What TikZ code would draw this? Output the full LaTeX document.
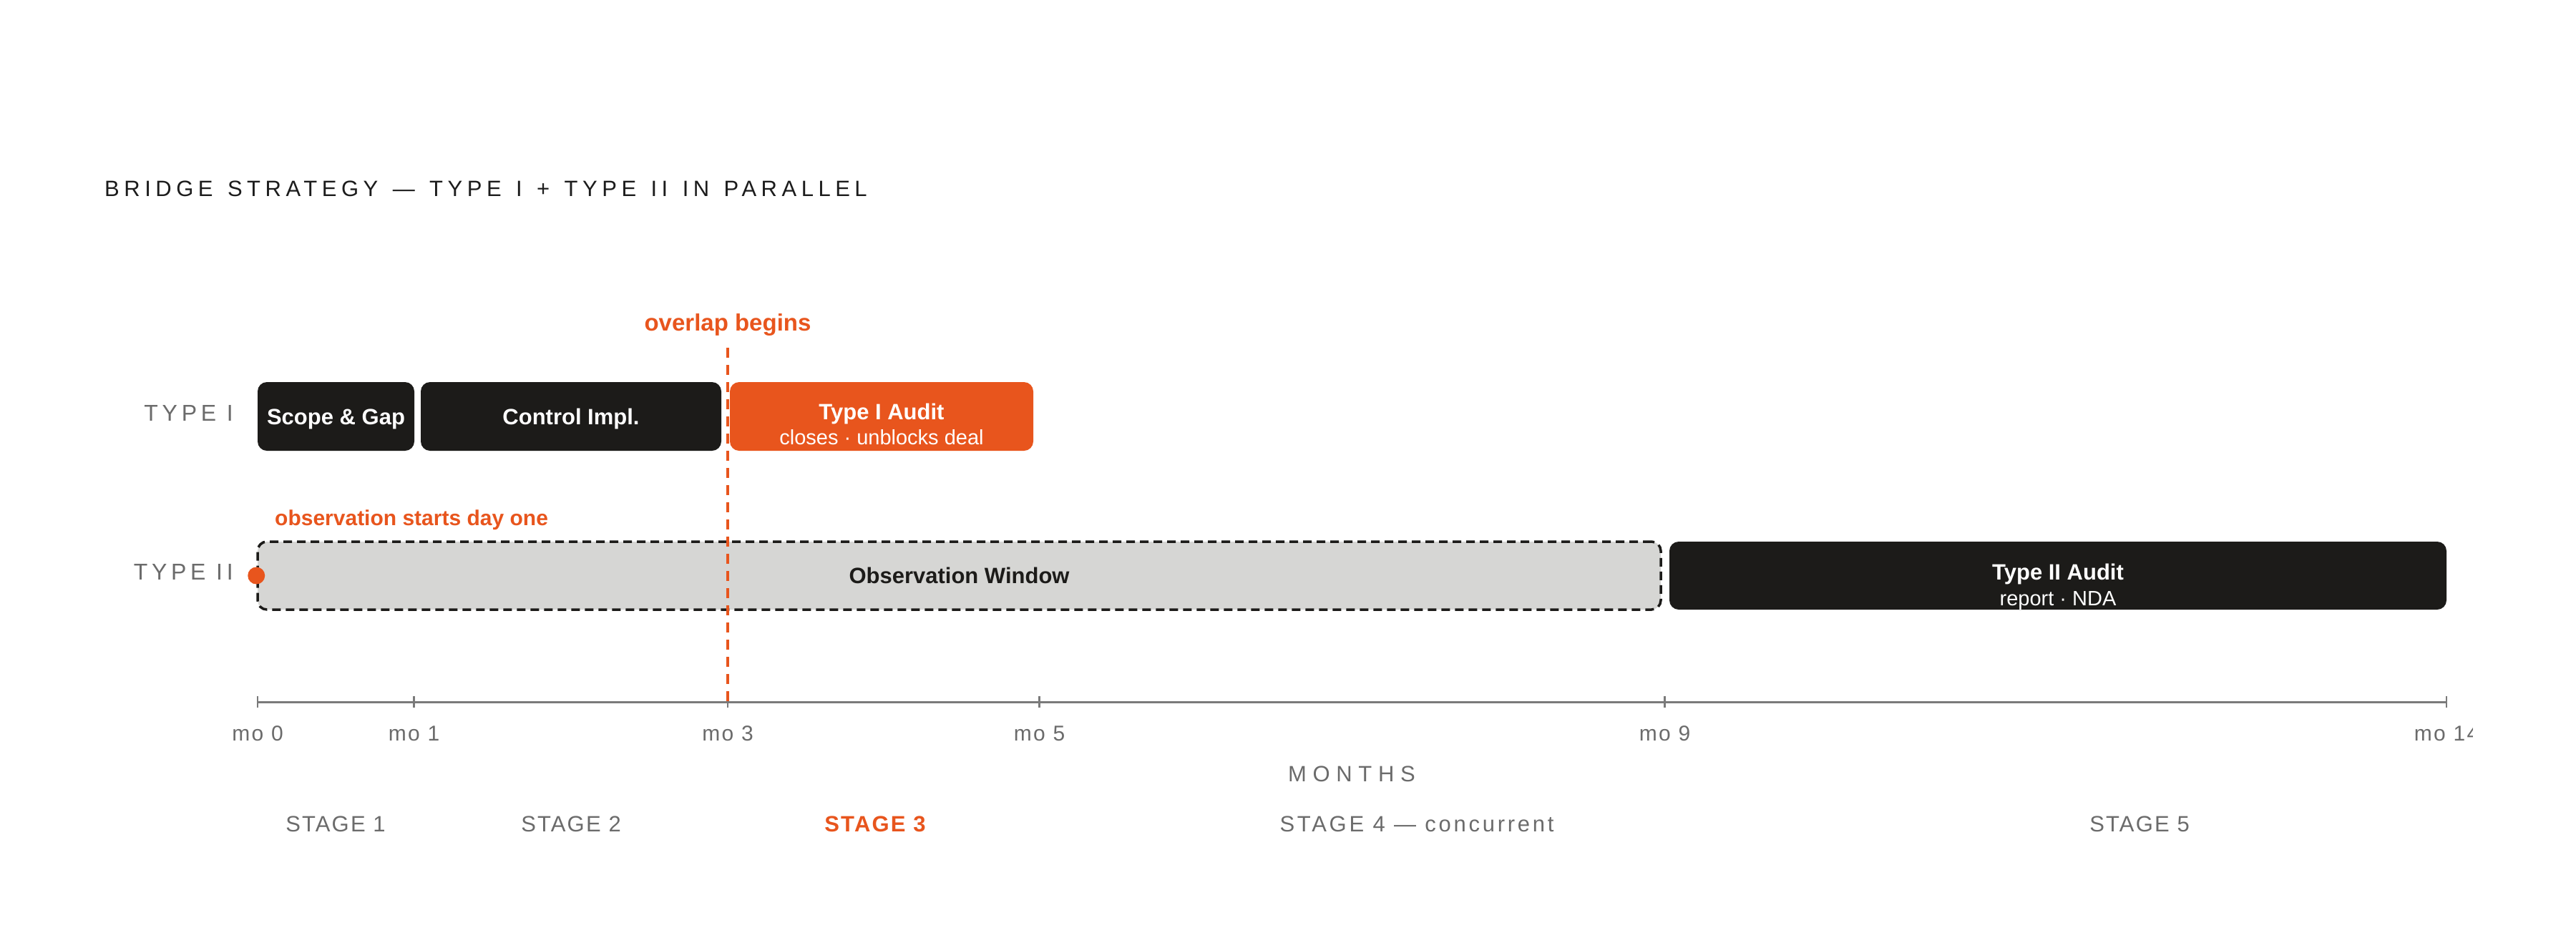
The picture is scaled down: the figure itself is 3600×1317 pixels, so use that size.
\documentclass[tikz,border=0pt]{standalone}
\usepackage{fontspec}
\usetikzlibrary{calc}
\setmainfont{Liberation Sans}
\newfontfamily\titlefont[LetterSpace=21,WordSpace=1.35]{Liberation Sans}
\newfontfamily\rowfont[LetterSpace=18]{Liberation Sans}
\newfontfamily\stagefont[LetterSpace=7]{Liberation Sans}
\newfontfamily\stagefourfont[LetterSpace=12]{Liberation Sans}
\newfontfamily\monthsfont[LetterSpace=28]{Liberation Sans}
\newfontfamily\tickfont[LetterSpace=8]{Liberation Sans}
\definecolor{ink}{HTML}{1C1B19}
\definecolor{accent}{HTML}{E8551D}
\definecolor{muted}{HTML}{6B6B6B}
\definecolor{obsfill}{HTML}{D6D6D4}
\definecolor{axisgray}{HTML}{7A7A7A}
\definecolor{titleink}{HTML}{1C1C1C}
\begin{document}
\begin{tikzpicture}[x=1pt,y=-1pt,
  barbase/.style={rounded corners=13pt, inner sep=0pt, minimum height=96pt,
    text height=22pt, text depth=0pt},
  darkbar/.style={barbase, fill=ink, text=white, font=\fontsize{31}{36}\selectfont\bfseries},
  accentbar/.style={barbase, fill=accent, text=white},
  obsbar/.style={barbase, minimum height=95pt, fill=obsfill, draw=ink, line width=3.5pt,
    dash pattern=on 12pt off 7pt, text=ink, font=\fontsize{31}{36}\selectfont\bfseries},
  bartitle/.style={anchor=base, inner sep=0pt, text=white, font=\fontsize{31}{36}\selectfont\bfseries},
  barsub/.style={anchor=base, inner sep=0pt, text=white, font=\fontsize{29}{34}\selectfont},
  rowlbl/.style={anchor=base east, inner sep=0pt, text=muted, font=\fontsize{32}{38}\selectfont\rowfont},
  ticklbl/.style={anchor=base, inner sep=0pt, text=muted, font=\fontsize{30}{36}\selectfont\tickfont},
  stagelbl/.style={anchor=base, inner sep=0pt, text=muted, font=\fontsize{31}{36}\selectfont\stagefont},
  note/.style={inner sep=0pt, text=accent, font=\bfseries},
  axisline/.style={draw=axisgray, line width=3pt},
  tickmark/.style={draw=axisgray, line width=2.5pt},
  overlapline/.style={draw=accent, line width=4.5pt, dash pattern=on 14pt off 10pt}
]
\fill[white] (0,0) rectangle (3600,1317);
\useasboundingbox (0,0) rectangle (3600,1317);

% title
\node[anchor=base west, inner sep=0pt, text=titleink, font=\fontsize{31}{36}\selectfont\titlefont]
  (title) at (146,274) {BRIDGE STRATEGY — TYPE I + TYPE II IN PARALLEL};

% row labels
\node[rowlbl] (rowone) at (326,588) {TYPE I};
\node[rowlbl] (rowtwo) at (326,810) {TYPE II};

% Type I bars
\node[darkbar, minimum width=219pt] (scope) at (469.5,582) {Scope \& Gap};
\node[darkbar, minimum width=420pt] (control) at (798,582) {Control Impl.};
\node[accentbar, minimum width=424pt] (taudit) at (1232,582) {};
\node[bartitle] (tatitle) at (1232,586) {Type I Audit};
\node[barsub] (tasub) at (1232,621) {closes · unblocks deal};

% Type II bars
\node[obsbar, minimum width=1961pt] (obs) at (1340.5,804.5) {Observation Window};
\node[darkbar, minimum width=1086pt, minimum height=95pt] (ttaudit) at (2876,804.5) {};
\node[bartitle] (tttitle) at (2876,810) {Type II Audit};
\node[barsub] (ttsub) at (2876,846) {report · NDA};

% notes
\node[note, anchor=base west, font=\fontsize{30}{36}\selectfont\bfseries] (obsnote) at (384,734) {observation starts day one};
\node[note, anchor=base, font=\fontsize{33}{38}\selectfont\bfseries] (ovnote) at (1017,462) {overlap begins};

% axis
\coordinate (m0) at (360,981);
\coordinate (m1) at (578.5,981);
\coordinate (m3) at (1017,981);
\coordinate (m5) at (1452.5,981);
\coordinate (m9) at (2326.5,981);
\coordinate (m14) at (3419,981);
\draw[axisline] (m0) -- (m14);
\foreach \m in {m0,m1,m3,m5,m9,m14}{
  \draw[tickmark] ($(\m)+(0,-8)$) -- ($(\m)+(0,8)$);
}
\node[ticklbl] (l0) at (360,1035) {mo 0};
\node[ticklbl] (l1) at (578.5,1035) {mo 1};
\node[ticklbl] (l3) at (1017,1035) {mo 3};
\node[ticklbl] (l5) at (1452.5,1035) {mo 5};
\node[ticklbl] (l9) at (2326.5,1035) {mo 9};
\begin{scope}
  \clip (0,0) rectangle (3455,1317);
  \node[ticklbl] (l14) at (3419,1035) {mo 14};
\end{scope}
\node[anchor=base, inner sep=0pt, text=muted, font=\fontsize{31}{36}\selectfont\monthsfont] (months) at (1889,1092) {MONTHS};

% stages
\node[stagelbl] (s1) at (469,1162) {STAGE 1};
\node[stagelbl] (s2) at (798,1162) {STAGE 2};
\node[stagelbl, text=accent, font=\fontsize{31}{36}\selectfont\stagefont\bfseries] (s3) at (1223,1162) {STAGE 3};
\node[stagelbl, font=\fontsize{31}{36}\selectfont\stagefourfont] (s4) at (1980,1162) {STAGE 4 — concurrent};
\node[stagelbl] (s5) at (2990,1162) {STAGE 5};

% overlap line and start dot
\coordinate (ovtop) at (1017,486);
\coordinate (ovbot) at (1017,986);
\draw[overlapline] (ovtop) -- (ovbot);
\fill[accent] (obs.west) circle[radius=12pt];
\end{tikzpicture}
\end{document}
